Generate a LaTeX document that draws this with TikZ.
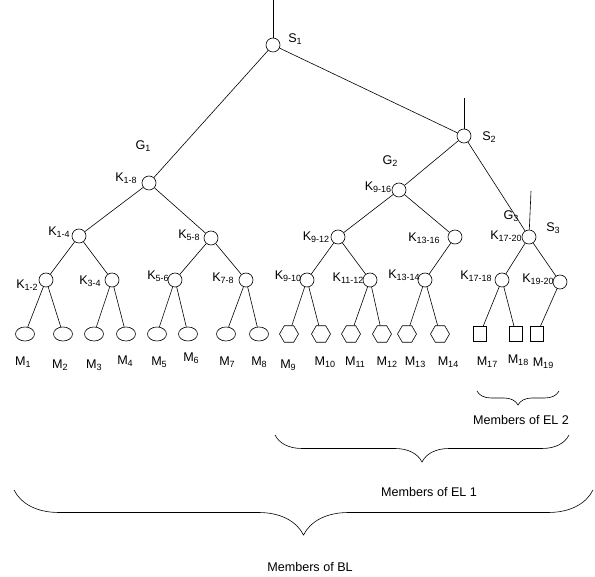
\documentclass[tikz,border=0pt]{standalone}
\usepackage{fontspec}
\setmainfont{Liberation Sans}
\usetikzlibrary{shapes.geometric, decorations.pathreplacing, positioning}
\newcommand{\ksub}[1]{\raisebox{-0.3ex}{\fontsize{9}{9}\selectfont #1}}

\begin{document}
\begin{tikzpicture}[
    x=1pt, y=-1pt,
    font=\fontsize{12.6}{14}\selectfont,
    line width=0.6pt,
    knode/.style={draw, circle, minimum size=14pt, inner sep=0pt},
    oval/.style={draw, ellipse, minimum width=19pt, minimum height=14pt, inner sep=0pt},
    hexa/.style={draw, regular polygon, regular polygon sides=6, minimum size=19pt, inner sep=0pt},
    sqbox/.style={draw, rectangle, minimum width=13pt, minimum height=15pt, inner sep=0pt},
    lbl/.style={inner sep=0pt},
    link/.style={black, line width=0.6pt},
    bracedown/.style={decorate, decoration={brace, mirror, amplitude=#1}}
  ]
    \useasboundingbox (0,0) rectangle (595,577);

    \node[knode] (s1) at (273,45) {};
    \node[knode] (s2) at (464,136) {};
    \node[knode] (k18) at (149,183) {};
    \node[knode] (k916) at (399,190) {};
    \node[knode] (k1720) at (529,237) {};
    \node[knode] (k14) at (79,236) {};
    \node[knode] (k58) at (211,238) {};
    \node[knode] (k912) at (338,237) {};
    \node[knode] (k1316) at (455,237) {};
    \node[knode] (k12) at (46,280) {};
    \node[knode] (k34) at (112,280) {};
    \node[knode] (k56) at (175,280) {};
    \node[knode] (k78) at (246,280) {};
    \node[knode] (k910) at (307,280) {};
    \node[knode] (k1112) at (370,280) {};
    \node[knode] (k1314) at (425,280) {};
    \node[knode] (k1718) at (502,280) {};
    \node[knode] (k1920) at (560,282) {};

    \node[oval] (m1) at (25,334) {};
    \node[oval] (m2) at (63,334) {};
    \node[oval] (m3) at (94,334) {};
    \node[oval] (m4) at (126,334) {};
    \node[oval] (m5) at (157,334) {};
    \node[oval] (m6) at (188,334) {};
    \node[oval] (m7) at (226,334) {};
    \node[oval] (m8) at (259,334) {};
    \node[hexa] (m9) at (289,334) {};
    \node[hexa] (m10) at (321,334) {};
    \node[hexa] (m11) at (351,334) {};
    \node[hexa] (m12) at (382,334) {};
    \node[hexa] (m13) at (407,334) {};
    \node[hexa] (m14) at (440,334) {};
    \node[sqbox] (m17) at (480,334) {};
    \node[sqbox] (m18) at (516,334) {};
    \node[sqbox] (m19) at (537,334) {};

    \node[lbl] (ls1) at (295,39) {S\ksub{1}};
    \node[lbl] (ls2) at (489,137) {S\ksub{2}};
    \node[lbl] (ls3) at (553,228) {S\ksub{3}};
    \node[lbl] (lg1) at (143,146) {G\ksub{1}};
    \node[lbl] (lg2) at (390,161) {G\ksub{2}};
    \node[lbl] (lg3) at (511,216) {G\ksub{3}};
    \node[lbl] (lk18) at (126,178) {K\ksub{1-8}};
    \node[lbl] (lk14) at (59,232) {K\ksub{1-4}};
    \node[lbl] (lk58) at (189,235) {K\ksub{5-8}};
    \node[lbl] (lk12) at (27,285) {K\ksub{1-2}};
    \node[lbl] (lk34) at (90,281) {K\ksub{3-4}};
    \node[lbl] (lk56) at (158,276) {K\ksub{5-6}};
    \node[lbl] (lk78) at (223,278) {K\ksub{7-8}};
    \node[lbl] (lk916) at (378,187) {K\ksub{9-16}};
    \node[lbl] (lk912) at (316,237) {K\ksub{9-12}};
    \node[lbl] (lk1316) at (424,238) {K\ksub{13-16}};
    \node[lbl] (lk910) at (288,276) {K\ksub{9-10}};
    \node[lbl] (lk1112) at (348,278) {K\ksub{11-12}};
    \node[lbl] (lk1314) at (404,275) {K\ksub{13-14}};
    \node[lbl] (lk1720) at (506,236) {K\ksub{17-20}};
    \node[lbl] (lk1718) at (476,276) {K\ksub{17-18}};
    \node[lbl] (lk1920) at (538,279) {K\ksub{19-20}};

    \node[lbl] (lm1) at (23,362) {M\ksub{1}};
    \node[lbl] (lm2) at (60,365) {M\ksub{2}};
    \node[lbl] (lm3) at (94,365) {M\ksub{3}};
    \node[lbl] (lm4) at (125,361) {M\ksub{4}};
    \node[lbl] (lm5) at (159,362) {M\ksub{5}};
    \node[lbl] (lm6) at (191,358) {M\ksub{6}};
    \node[lbl] (lm7) at (227,362) {M\ksub{7}};
    \node[lbl] (lm8) at (259,362) {M\ksub{8}};
    \node[lbl] (lm9) at (288,365) {M\ksub{9}};
    \node[lbl] (lm10) at (325,362) {M\ksub{10}};
    \node[lbl] (lm11) at (355,362) {M\ksub{11}};
    \node[lbl] (lm12) at (387,362) {M\ksub{12}};
    \node[lbl] (lm13) at (415,362) {M\ksub{13}};
    \node[lbl] (lm14) at (448,362) {M\ksub{14}};
    \node[lbl] (lm17) at (487,362) {M\ksub{17}};
    \node[lbl] (lm18) at (518,360) {M\ksub{18}};
    \node[lbl] (lm19) at (543,363) {M\ksub{19}};

    \coordinate (top1) at (273,0);
    \coordinate (top2) at (464,98);
    \coordinate (top3) at (531,191);
    \draw[link] (top1) -- (s1);
    \draw[link] (top2) -- (s2);
    \draw[link] (top3) -- (k1720);

    \draw[link] (s1) -- (k18);
    \draw[link] (s1) -- (s2);
    \draw[link] (s2) -- (k916);
    \draw[link] (s2) -- (k1720);
    \draw[link] (k18) -- (k14);
    \draw[link] (k18) -- (k58);
    \draw[link] (k14) -- (k12);
    \draw[link] (k14) -- (k34);
    \draw[link] (k58) -- (k56);
    \draw[link] (k58) -- (k78);
    \draw[link] (k916) -- (k912);
    \draw[link] (k916) -- (k1316);
    \draw[link] (k912) -- (k910);
    \draw[link] (k912) -- (k1112);
    \draw[link] (k1316) -- (k1314);
    \draw[link] (k1720) -- (k1718);
    \draw[link] (k1720) -- (k1920);
    \draw[link] (k12) -- (m1);
    \draw[link] (k12) -- (m2);
    \draw[link] (k34) -- (m3);
    \draw[link] (k34) -- (m4);
    \draw[link] (k56) -- (m5);
    \draw[link] (k56) -- (m6);
    \draw[link] (k78) -- (m7);
    \draw[link] (k78) -- (m8);
    \draw[link] (k910) -- (m9);
    \draw[link] (k910) -- (m10);
    \draw[link] (k1112) -- (m11);
    \draw[link] (k1112) -- (m12);
    \draw[link] (k1314) -- (m13);
    \draw[link] (k1314) -- (m14);
    \draw[link] (k1718) -- (m17);
    \draw[link] (k1718) -- (m18);
    \draw[link] (k1920) -- (m19);

    \coordinate (el2a) at (477,391);
    \coordinate (el2b) at (559,391);
    \coordinate (el1a) at (275,435);
    \coordinate (el1b) at (569,435);
    \coordinate (bla) at (14,490);
    \coordinate (blb) at (593,490);
    \draw[link, bracedown=14] (el2a) -- (el2b);
    \draw[link, bracedown=27] (el1a) -- (el1b);
    \draw[link, bracedown=45] (bla) -- (blb);
    \node[lbl] (lel2) at (521,420) {Members of EL 2};
    \node[lbl] (lel1) at (429,492) {Members of EL 1};
    \node[lbl] (lbl) at (310,567) {Members of BL};
  \end{tikzpicture}
\end{document}
